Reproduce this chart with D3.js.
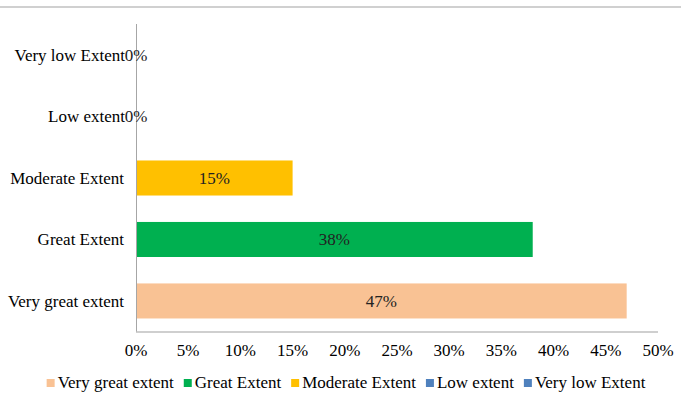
<!DOCTYPE html>
<html>
<head>
<meta charset="utf-8">
<script src="https://cdn.jsdelivr.net/npm/d3@7"></script>
<style>
  body { margin: 0; background: #fff; }
  svg text { font-family: "Liberation Serif", "Times New Roman", serif; fill: #000; }
</style>
</head>
<body>
<svg id="chart" width="681" height="403"></svg>
<script>
// data
var categories = ['Very great extent', 'Great Extent', 'Moderate Extent', 'Low extent', 'Very low Extent'];
var values = [0.47, 0.38, 0.15, 0, 0];
var colors = ['#F9C294', '#00B050', '#FFC000', '#4F81BD', '#4F81BD'];
var xTicks = [0, 0.05, 0.1, 0.15, 0.2, 0.25, 0.3, 0.35, 0.4, 0.45, 0.5];

var svg = d3.select('#chart');
var fontSize = 17;

// thin border at the top
svg.append('line')
    .attr('x1', 0).attr('x2', 681)
    .attr('y1', 7).attr('y2', 7)
    .attr('stroke', '#d0d0d0')
    .attr('stroke-width', 2);

var plotLeft = 136, plotRight = 658, plotTop = 24, plotBottom = 332;

var x = d3.scaleLinear()
    .domain([0, 0.5])
    .range([plotLeft, plotRight]);

var y = d3.scaleBand()
    .domain(categories.slice().reverse())
    .range([plotTop, plotBottom])
    .paddingInner(0.43)
    .paddingOuter(0.22);

// bars
svg.selectAll('rect.bar')
    .data(categories)
    .enter()
    .append('rect')
    .attr('class', 'bar')
    .attr('x', x(0))
    .attr('y', function (d) { return y(d); })
    .attr('width', function (d, i) { return x(values[i]) - x(0); })
    .attr('height', y.bandwidth())
    .attr('fill', function (d, i) { return colors[i]; });

// axes lines
svg.append('line')
    .attr('x1', plotLeft + 0.5).attr('x2', plotLeft + 0.5)
    .attr('y1', plotTop).attr('y2', plotBottom)
    .attr('stroke', '#a6a6a6');
svg.append('line')
    .attr('x1', plotLeft).attr('x2', plotRight)
    .attr('y1', plotBottom).attr('y2', plotBottom)
    .attr('stroke', '#bfbfbf')
    .attr('stroke-width', 1.5);

// category labels
svg.selectAll('text.cat')
    .data(categories)
    .enter()
    .append('text')
    .attr('class', 'cat')
    .attr('x', function (d, i) { return values[i] === 0 ? plotLeft - 11 : plotLeft - 12; })
    .attr('y', function (d) { return y(d) + y.bandwidth() / 2; })
    .attr('dy', '0.35em')
    .attr('text-anchor', 'end')
    .attr('font-size', fontSize)
    .text(function (d) { return d; });

// value labels
svg.selectAll('text.val')
    .data(categories)
    .enter()
    .append('text')
    .attr('class', 'val')
    .attr('x', function (d, i) { return (x(0) + x(values[i])) / 2; })
    .attr('y', function (d) { return y(d) + y.bandwidth() / 2; })
    .attr('dy', '0.35em')
    .attr('text-anchor', 'middle')
    .attr('font-size', fontSize)
    .style('fill', '#222')
    .text(function (d, i) { return Math.round(values[i] * 100) + '%'; });

// x tick labels
svg.selectAll('text.tick')
    .data(xTicks)
    .enter()
    .append('text')
    .attr('class', 'tick')
    .attr('x', function (d) { return x(d); })
    .attr('y', 356)
    .attr('text-anchor', 'middle')
    .attr('font-size', fontSize)
    .text(function (d) { return Math.round(d * 100) + '%'; });

// legend
var legend = svg.append('g');
var cx = 0;
var gap = 10;
categories.forEach(function (c, i) {
    var g = legend.append('g').attr('transform', 'translate(' + cx + ',0)');
    g.append('rect')
        .attr('x', 0).attr('y', -9)
        .attr('width', 8).attr('height', 8)
        .attr('fill', colors[i]);
    var t = g.append('text')
        .attr('x', 11).attr('y', 0)
        .attr('font-size', fontSize)
        .text(c);
    cx += 11 + t.node().getComputedTextLength() + gap;
});
var legendW = cx - gap;
legend.attr('transform', 'translate(' + (346 - legendW / 2) + ',388)');
</script>
</body>
</html>
